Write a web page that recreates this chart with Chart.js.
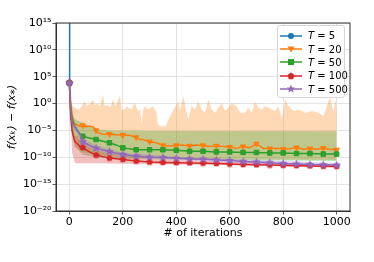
<!DOCTYPE html>
<html lang="en">
<head>
<meta charset="UTF-8">
<title>Convergence vs iterations</title>
<script src="https://cdn.jsdelivr.net/npm/chart.js"></script>
<style>
  body { margin: 0; background: #fff; }
  #wrap { position: relative; width: 374px; height: 262px; }
  #legend {
    position: absolute; left: 277px; top: 25px; width: 68px; height: 73px;
    box-sizing: border-box; padding-top: 3px;
    border: 1px solid #d6d6d6; border-radius: 3px; background: rgba(255,255,255,0.85);
    font: 10px "DejaVu Sans", sans-serif; color: #000; white-space: nowrap;
  }
  .row { display: flex; align-items: center; height: 13.4px; }
  .row svg { margin: 0 5px 0 1px; flex: none; }
</style>
</head>
<body>
<div id="wrap">
  <canvas id="chart" width="374" height="262"></canvas>
  <div id="legend"></div>
</div>
<script>
// T = 5 blows up right after the first iteration
const blueIters = [0, 1];
const blueVals = [7e3, 1e25];

// T = 20
const orangeIters = [0, 5, 10, 15, 20, 30, 40, 50, 60, 75, 90, 100, 110, 125, 150, 175, 200, 225, 250, 265, 275,
  300, 325, 350, 375, 400, 425, 450, 475, 500, 525, 550, 575, 600, 625, 650, 675, 700, 725, 750, 775,
  800, 825, 850, 875, 900, 925, 950, 975, 1000];
const orangeVals = [7e3, 3, 1e-2, 6.3e-4, 1.6e-4, 1e-4, 6.3e-5, 8e-5, 5e-5, 6.3e-5, 4e-5, 1e-5, 3.2e-6, 2e-6, 2e-6, 1.6e-6, 1.3e-6, 1.3e-6, 5e-7, 2e-7, 2e-7,
  8e-8, 5e-8, 1.6e-8, 1.3e-8, 1.6e-8, 2e-8, 1.3e-8, 2e-8, 1.6e-8, 1e-8, 1.3e-8, 1e-8, 8e-9, 5e-9, 1e-8, 6.3e-9, 3.2e-8, 5e-9, 4e-9, 5e-9,
  3.2e-9, 4e-9, 6.3e-9, 3.2e-9, 4e-9, 3.2e-9, 5e-9, 3.2e-9, 2.5e-9];
const orangeHiIters = [0, 3, 8, 13, 20, 30, 38, 45, 57, 65, 75, 88, 95, 105, 115, 126, 132, 145, 152, 164, 172, 189, 196,
  207, 214, 220, 232, 245, 257, 265, 270, 276, 282, 295, 313, 326, 332, 340, 360, 376, 390, 407, 415, 426, 438, 445, 457, 470,
  482, 495, 508, 520, 532, 545, 570, 582, 595, 607, 626, 639, 657, 670, 682, 695, 707, 720, 732, 745,
  770, 782, 795, 808, 820, 832, 845, 857, 883, 907, 933, 951, 964, 976, 988, 995, 1000];
const orangeHiVals = [7e3, 30, 1, 3.2e-1, 1.6e-1, 1e-1, 1e-1, 2.5e-1, 2.5, 4e-1, 6.3e-1, 5.6, 5e-1, 1, 3.2e-1, 50, 4e-1, 5e-1, 1.6e-1, 5.6, 2.5e-1, 25, 6.3e-2,
  7.9e-2, 3.2e-1, 1.6e-1, 7.9e-2, 1.26, 4e-2, 1e-1, 1.26e-4, 7.9e-2, 3.2e-1, 7.9e-2, 3.2e-1, 2e-2, 1.26e-4, 6.3e-5, 6.3e-5, 4e-3, 7.9e-2, 2.5, 6.3e-2, 25, 4e-2, 1e-3, 3.2e-1, 7.9e-2,
  2.5, 7.9e-2, 2e-2, 5.6, 7.9e-2, 2e-2, 1.26, 4e-2, 1.6e-1, 1.26, 3.2e-1, 2e-2, 2e-2, 1.6e-1, 2e-2, 2.5, 1.6e-1, 7.9e-2, 3.2e-1, 1.6e-1,
  4e-2, 3.2e-1, 2e-3, 5.6, 3.2e-1, 7.9e-2, 4e-2, 7.9e-2, 2e-2, 4e-2, 2e-2, 4e-3, 6.3e-1, 12.6, 2e-2, 5.6, 1e-1];
const orangeLoIters = [0, 10, 20, 50, 100, 200, 400, 1000];
const orangeLoVals = [7e3, 1e-6, 1e-8, 1e-9, 3e-10, 1e-10, 5e-11, 3e-11];

// T = 50
const greenIters = [0, 5, 10, 20, 30, 40, 50, 75, 100, 125, 150, 175, 200, 250, 300, 350, 400, 450, 500,
  550, 600, 650, 700, 750, 800, 850, 900, 950, 1000];
const greenVals = [7e3, 1e-1, 1.6e-3, 6.3e-5, 1e-5, 2.5e-6, 8e-7, 4e-7, 2e-7, 1e-7, 5e-8, 2e-8, 5.6e-9, 2.5e-9, 2.5e-9, 2.5e-9, 2e-9, 1.3e-9, 1.3e-9,
  1e-9, 1e-9, 8e-10, 8e-10, 6.3e-10, 6.3e-10, 5e-10, 5e-10, 4e-10, 4e-10];
const greenHiIters = [0, 5, 10, 20, 30, 50, 75, 100, 150, 300, 1000];
const greenHiVals = [7e3, 3e-1, 1.6e-2, 1.6e-3, 6.3e-4, 3.2e-4, 6.3e-5, 1.6e-5, 1e-5, 8e-6, 7e-6];
const greenLoIters = [0, 10, 20, 50, 100, 200, 500, 1000];
const greenLoVals = [7e3, 3e-6, 1e-8, 3e-10, 1e-10, 5e-11, 3e-11, 2e-11];

// T = 100
const redIters = [0, 5, 10, 20, 30, 40, 50, 75, 100, 150, 200, 250, 300, 350, 400, 450, 500,
  550, 600, 650, 700, 750, 800, 850, 900, 950, 1000];
const redVals = [7e3, 3e-3, 1e-5, 1e-7, 3.2e-8, 1e-8, 6.3e-9, 1e-9, 2.5e-10, 7e-11, 4e-11, 2e-11, 1.3e-11, 1.1e-11, 1e-11, 9e-12, 8e-12,
  7e-12, 5.6e-12, 4.5e-12, 4e-12, 3.5e-12, 3.2e-12, 2.8e-12, 2.5e-12, 2.2e-12, 2e-12];
const redHiIters = [0, 5, 10, 20, 30, 40, 50, 100, 200, 400, 1000];
const redHiVals = [7e3, 1, 1e-3, 1e-6, 1e-6, 1e-7, 3e-8, 1.6e-9, 1.6e-10, 3e-11, 4e-12];
const redLoIters = [0, 10, 20, 30, 100, 300, 550, 800, 1000];
const redLoVals = [7e3, 1e-9, 1e-11, 8e-12, 8e-12, 5e-12, 4e-12, 2e-12, 1.3e-12];

// T = 500
const purpleIters = [0, 5, 10, 20, 30, 40, 50, 75, 100, 150, 200, 250, 300, 350, 400, 450, 500,
  550, 600, 650, 700, 750, 800, 850, 900, 950, 1000];
const purpleVals = [7e3, 3e-2, 3.2e-4, 5e-5, 1e-5, 1.6e-6, 8e-8, 1.6e-8, 5e-9, 1.1e-9, 3.2e-10, 1.6e-10, 1e-10, 9e-11, 6.3e-11, 5e-11, 4.5e-11,
  3.2e-11, 2.5e-11, 1.6e-11, 1.3e-11, 1e-11, 7e-12, 5.6e-12, 4.5e-12, 4e-12, 3.5e-12];
const purpleHiIters = [0, 10, 20, 50, 100, 200, 400, 700, 1000];
const purpleHiVals = [7e3, 1e-3, 2e-4, 3e-7, 1.5e-8, 8e-10, 1.3e-10, 3e-11, 8e-12];
const purpleLoIters = [0, 10, 20, 50, 100, 200, 400, 700, 1000];
const purpleLoVals = [7e3, 1e-4, 1e-5, 2e-8, 1.6e-9, 1.3e-10, 3e-11, 6e-12, 1.6e-12];

const xTicks = [0, 200, 400, 600, 800, 1000];
const yTickExps = [-20, -15, -10, -5, 0, 5, 10, 15];

const C = {
  blue: '#1f77b4', orange: '#ff7f0e', green: '#2ca02c', red: '#d62728', purple: '#9467bd'
};
const seriesLabels = ['5', '20', '50', '100', '500'];

function pts(xs, ys) { return xs.map((x, i) => ({ x: x, y: ys[i] })); }

function alpha(hex, a) {
  const n = parseInt(hex.slice(1), 16);
  return `rgba(${n >> 16},${(n >> 8) & 255},${n & 255},${a})`;
}

// filled polygon marker (pentagon / star) as a small canvas
function polyMarker(color, n, inner, size) {
  const c = document.createElement('canvas');
  c.width = size; c.height = size;
  const g = c.getContext('2d');
  const r = size / 2;
  g.fillStyle = color;
  g.beginPath();
  const k = inner ? n * 2 : n;
  for (let i = 0; i < k; i++) {
    const a = -Math.PI / 2 + i * Math.PI * 2 / k;
    const rr = inner && i % 2 ? r * inner : r;
    const px = r + rr * Math.cos(a), py = r + rr * Math.sin(a);
    i ? g.lineTo(px, py) : g.moveTo(px, py);
  }
  g.closePath();
  g.fill();
  return c;
}

const markEvery = c => (c.raw && c.raw.x % 50 === 0 ? 3 : 0);

// bands sit under every line (higher order = drawn earlier)
const datasets = [];
function addBand(lo, hi, color, order) {
  const loIdx = datasets.length;
  datasets.push({ data: lo, borderWidth: 0, pointRadius: 0, fill: false, order: order, borderColor: 'rgba(0,0,0,0)' });
  datasets.push({ data: hi, borderWidth: 0, pointRadius: 0, fill: { target: loIdx }, order: order,
    borderColor: 'rgba(0,0,0,0)', backgroundColor: alpha(color, 0.3) });
}
function addLine(data, color, style, order, extra) {
  datasets.push(Object.assign({
    data: data, borderColor: color, backgroundColor: color, borderWidth: 1.5, fill: false,
    pointStyle: style, pointRadius: markEvery, pointBackgroundColor: color, pointBorderColor: color,
    pointBorderWidth: 1, order: order
  }, extra || {}));
}

addBand(pts(orangeLoIters, orangeLoVals), pts(orangeHiIters, orangeHiVals), C.orange, 40);
addBand(pts(greenLoIters, greenLoVals), pts(greenHiIters, greenHiVals), C.green, 39);
addBand(pts(redLoIters, redLoVals), pts(redHiIters, redHiVals), C.red, 38);
addBand(pts(purpleLoIters, purpleLoVals), pts(purpleHiIters, purpleHiVals), C.purple, 37);

addLine(pts(blueIters, blueVals), C.blue, 'circle', 20, { pointRadius: c => (c.raw.x === 0 ? 3 : 0) });
addLine(pts(orangeIters, orangeVals), C.orange, 'triangle', 18, { pointRotation: 180, pointRadius: c => (c.raw.x % 50 === 0 ? 3.2 : 0) });
addLine(pts(greenIters, greenVals), C.green, 'rect', 16, { pointRadius: c => (c.raw.x % 50 === 0 ? 3.2 : 0) });
addLine(pts(redIters, redVals), C.red, polyMarker(C.red, 5, 0, 7), 14);
addLine(pts(purpleIters, purpleVals), C.purple, polyMarker(C.purple, 5, 0.45, 9), 12);

const sup = { '-': '⁻', '0': '⁰', '1': '¹', '2': '²', '3': '³', '4': '⁴', '5': '⁵', '6': '⁶', '7': '⁷', '8': '⁸', '9': '⁹' };
const font = { family: 'DejaVu Sans', size: 11 };

const frame = {
  id: 'frame',
  afterDatasetsDraw(chart) {
    const a = chart.chartArea, g = chart.ctx;
    g.save();
    g.strokeStyle = '#333';
    g.lineWidth = 1;
    g.strokeRect(a.left, a.top, a.right - a.left, a.bottom - a.top);
    g.restore();
  }
};

new Chart(document.getElementById('chart'), {
  type: 'line',
  data: { datasets: datasets },
  plugins: [frame],
  options: {
    responsive: false,
    animation: false,
    events: [],
    layout: { autoPadding: false, padding: { left: 0, top: 23, right: 24, bottom: 0 } },
    plugins: { legend: { display: false }, tooltip: { enabled: false } },
    scales: {
      x: {
        type: 'linear', min: -50, max: 1050,
        afterBuildTicks: s => { s.ticks = xTicks.map(v => ({ value: v })); },
        afterFit: s => { s.height = 51; },
        ticks: { font: font, color: '#000', padding: 1, maxRotation: 0, callback: v => String(v) },
        grid: { color: '#dcdcdc', lineWidth: 0.8, tickLength: 3.5, tickColor: '#333' },
        border: { color: '#333', width: 1 },
        title: { display: true, text: '# of iterations', font: font, color: '#000', padding: { top: 0, bottom: 22 } }
      },
      y: {
        type: 'logarithmic', min: 1e-20, max: 1e15,
        afterBuildTicks: s => { s.ticks = yTickExps.map(e => ({ value: Math.pow(10, e) })); },
        afterFit: s => { s.width = 56; },
        ticks: {
          font: font, color: '#000', padding: 1,
          callback: v => '10' + String(Math.round(Math.log10(v))).split('').map(ch => sup[ch]).join('')
        },
        grid: { color: '#dcdcdc', lineWidth: 0.8, tickLength: 3.5, tickColor: '#333' },
        border: { color: '#333', width: 1 },
        title: { display: true, text: 'f(xₖ) − f(x⁎)', font: { family: 'DejaVu Sans', size: 11, style: 'italic' }, color: '#000', padding: { top: 6, bottom: 0 } }
      }
    }
  }
});

// legend, drawn as html so the T can be italic
const shapes = [
  '<circle cx="12" cy="5" r="3" fill="COL"/>',
  '<polygon points="8.5,2.5 15.5,2.5 12,8.5" fill="COL"/>',
  '<rect x="9" y="2" width="6" height="6" fill="COL"/>',
  '<polygon points="12,1.5 15.5,4.1 14.2,8.2 9.8,8.2 8.5,4.1" fill="COL"/>',
  '<polygon points="12,0.5 13.1,3.6 16.3,3.6 13.7,5.6 14.7,8.8 12,6.8 9.3,8.8 10.3,5.6 7.7,3.6 10.9,3.6" fill="COL"/>'
];
const cols = [C.blue, C.orange, C.green, C.red, C.purple];
document.getElementById('legend').innerHTML = seriesLabels.map((t, i) =>
  `<div class="row"><svg width="24" height="10"><line x1="1" y1="5" x2="23" y2="5" stroke="${cols[i]}" stroke-width="1.5"/>` +
  shapes[i].replace('COL', cols[i]) + `</svg><span><i>T</i> = ${t}</span></div>`).join('');
</script>
</body>
</html>
